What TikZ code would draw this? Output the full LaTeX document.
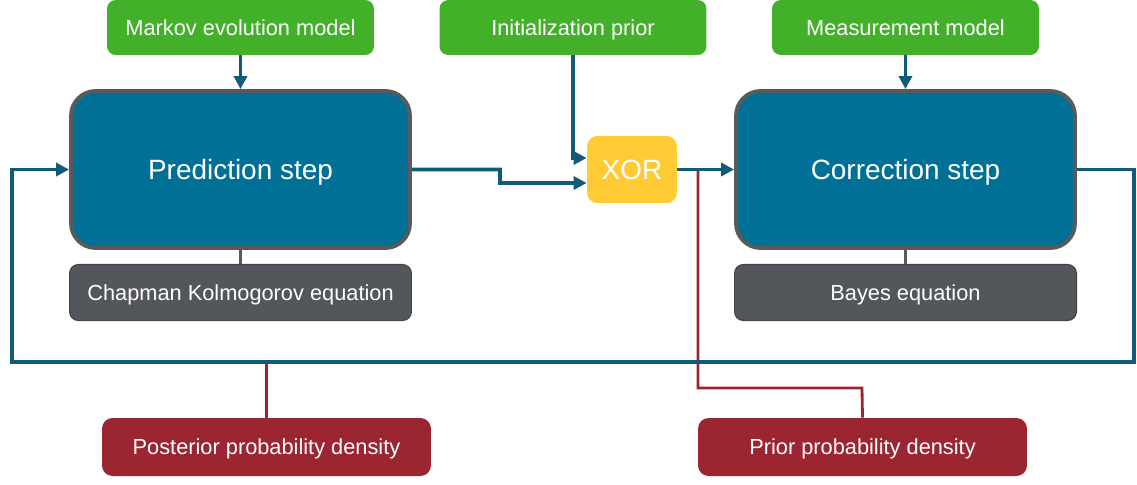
\documentclass[tikz,border=0pt]{standalone}
\usepackage{fontspec}
\setmainfont{Liberation Sans}
\usetikzlibrary{arrows.meta}

\definecolor{modelgreen}{HTML}{43B02A}
\definecolor{stepblue}{HTML}{007096}
\definecolor{flowblue}{HTML}{125A78}
\definecolor{xoryellow}{HTML}{FFCA33}
\definecolor{eqgray}{HTML}{53565A}
\definecolor{densityred}{HTML}{9B2530}
\definecolor{rimgray}{HTML}{5A5A5A}

\tikzset{
  modelbox/.style={fill=modelgreen, text=white, rounded corners=5pt,
    minimum width=5.34cm, minimum height=1.1cm, text height=8.9pt, text depth=0pt,
    font=\fontsize{12.4}{14}\selectfont},
  stepbox/.style={fill=stepblue, draw=rimgray, line width=2.2pt, text=white, rounded corners=14pt,
    minimum width=6.78cm, minimum height=3.14cm, text height=11.4pt, text depth=0pt,
    font=\fontsize{15.9}{18}\selectfont},
  eqbox/.style={fill=eqgray, draw=eqgray!80!black, line width=0.6pt, text=white, rounded corners=5pt,
    minimum width=6.84cm, minimum height=1.12cm, text height=8.9pt, text depth=0pt,
    font=\fontsize{12.4}{14}\selectfont},
  xorbox/.style={fill=xoryellow, text=white, rounded corners=6pt,
    minimum width=1.8cm, minimum height=1.34cm, text height=11.4pt, text depth=0pt,
    font=\fontsize{15.9}{18}\selectfont},
  densitybox/.style={fill=densityred, text=white, rounded corners=6pt,
    minimum width=6.58cm, minimum height=1.16cm, text height=8.9pt, text depth=0pt,
    font=\fontsize{12.4}{14}\selectfont},
  flow/.style={draw=flowblue, line width=2pt, -{Triangle[length=2.6mm,width=2.6mm]}},
  hang/.style={draw=rimgray, line width=2pt},
  density/.style={draw=densityred, line width=1.6pt}
}

\begin{document}
\begin{tikzpicture}[x=0.02cm, y=-0.02cm]
    \useasboundingbox (0,0) rectangle (1137,484);
    % Model inputs
    \node[modelbox] (markov) at (240.5,27.5) {Markov evolution model};
    \node[modelbox] (init) at (573,27.5) {Initialization prior};
    \node[modelbox] (meas) at (905.5,27.5) {Measurement model};
    % Filter steps
    \node[stepbox] (pred) at (240.5,169.5) {Prediction step};
    \node[stepbox] (corr) at (905.5,169.5) {Correction step};
    \node[xorbox] (xor) at (632,169.5) {XOR};
    % Equations
    \node[eqbox] (chap) at (240.5,292.5) {Chapman Kolmogorov equation};
    \node[eqbox] (bayes) at (905.5,292.5) {Bayes equation};
    % Densities
    \node[densitybox] (post) at (266.5,447) {Posterior probability density};
    \node[densitybox] (prior) at (862.5,447) {Prior probability density};
    % Corner points
    \coordinate (jog) at (500,183);
    \coordinate (fbright) at (1134,362);
    \coordinate (fbleft) at (12,362);
    \coordinate (tap) at (698,169.5);
    \coordinate (priorbend) at (862,388);
    % Density taps
    \draw[density] (tap) |- (priorbend) -- (prior.north);
    \draw[density] (post.north) -- (post.north |- fbleft);
    % Equations hang below the steps
    \draw[hang] (pred.south) -- (chap.north);
    \draw[hang] (corr.south) -- (bayes.north);
    % Flow
    \draw[flow] (markov) -- (pred);
    \draw[flow] (meas) -- (corr);
    \draw[flow] (init.south) |- ([yshift=0.23cm]xor.west);
    \draw[flow] (pred.east) -| (jog) -- ([yshift=-0.27cm]xor.west);
    \draw[flow] (xor) -- (corr);
    % Feedback loop
    \draw[flow] (corr.east) -| (fbright) -- (fbleft) |- (pred.west);
\end{tikzpicture}
\end{document}
